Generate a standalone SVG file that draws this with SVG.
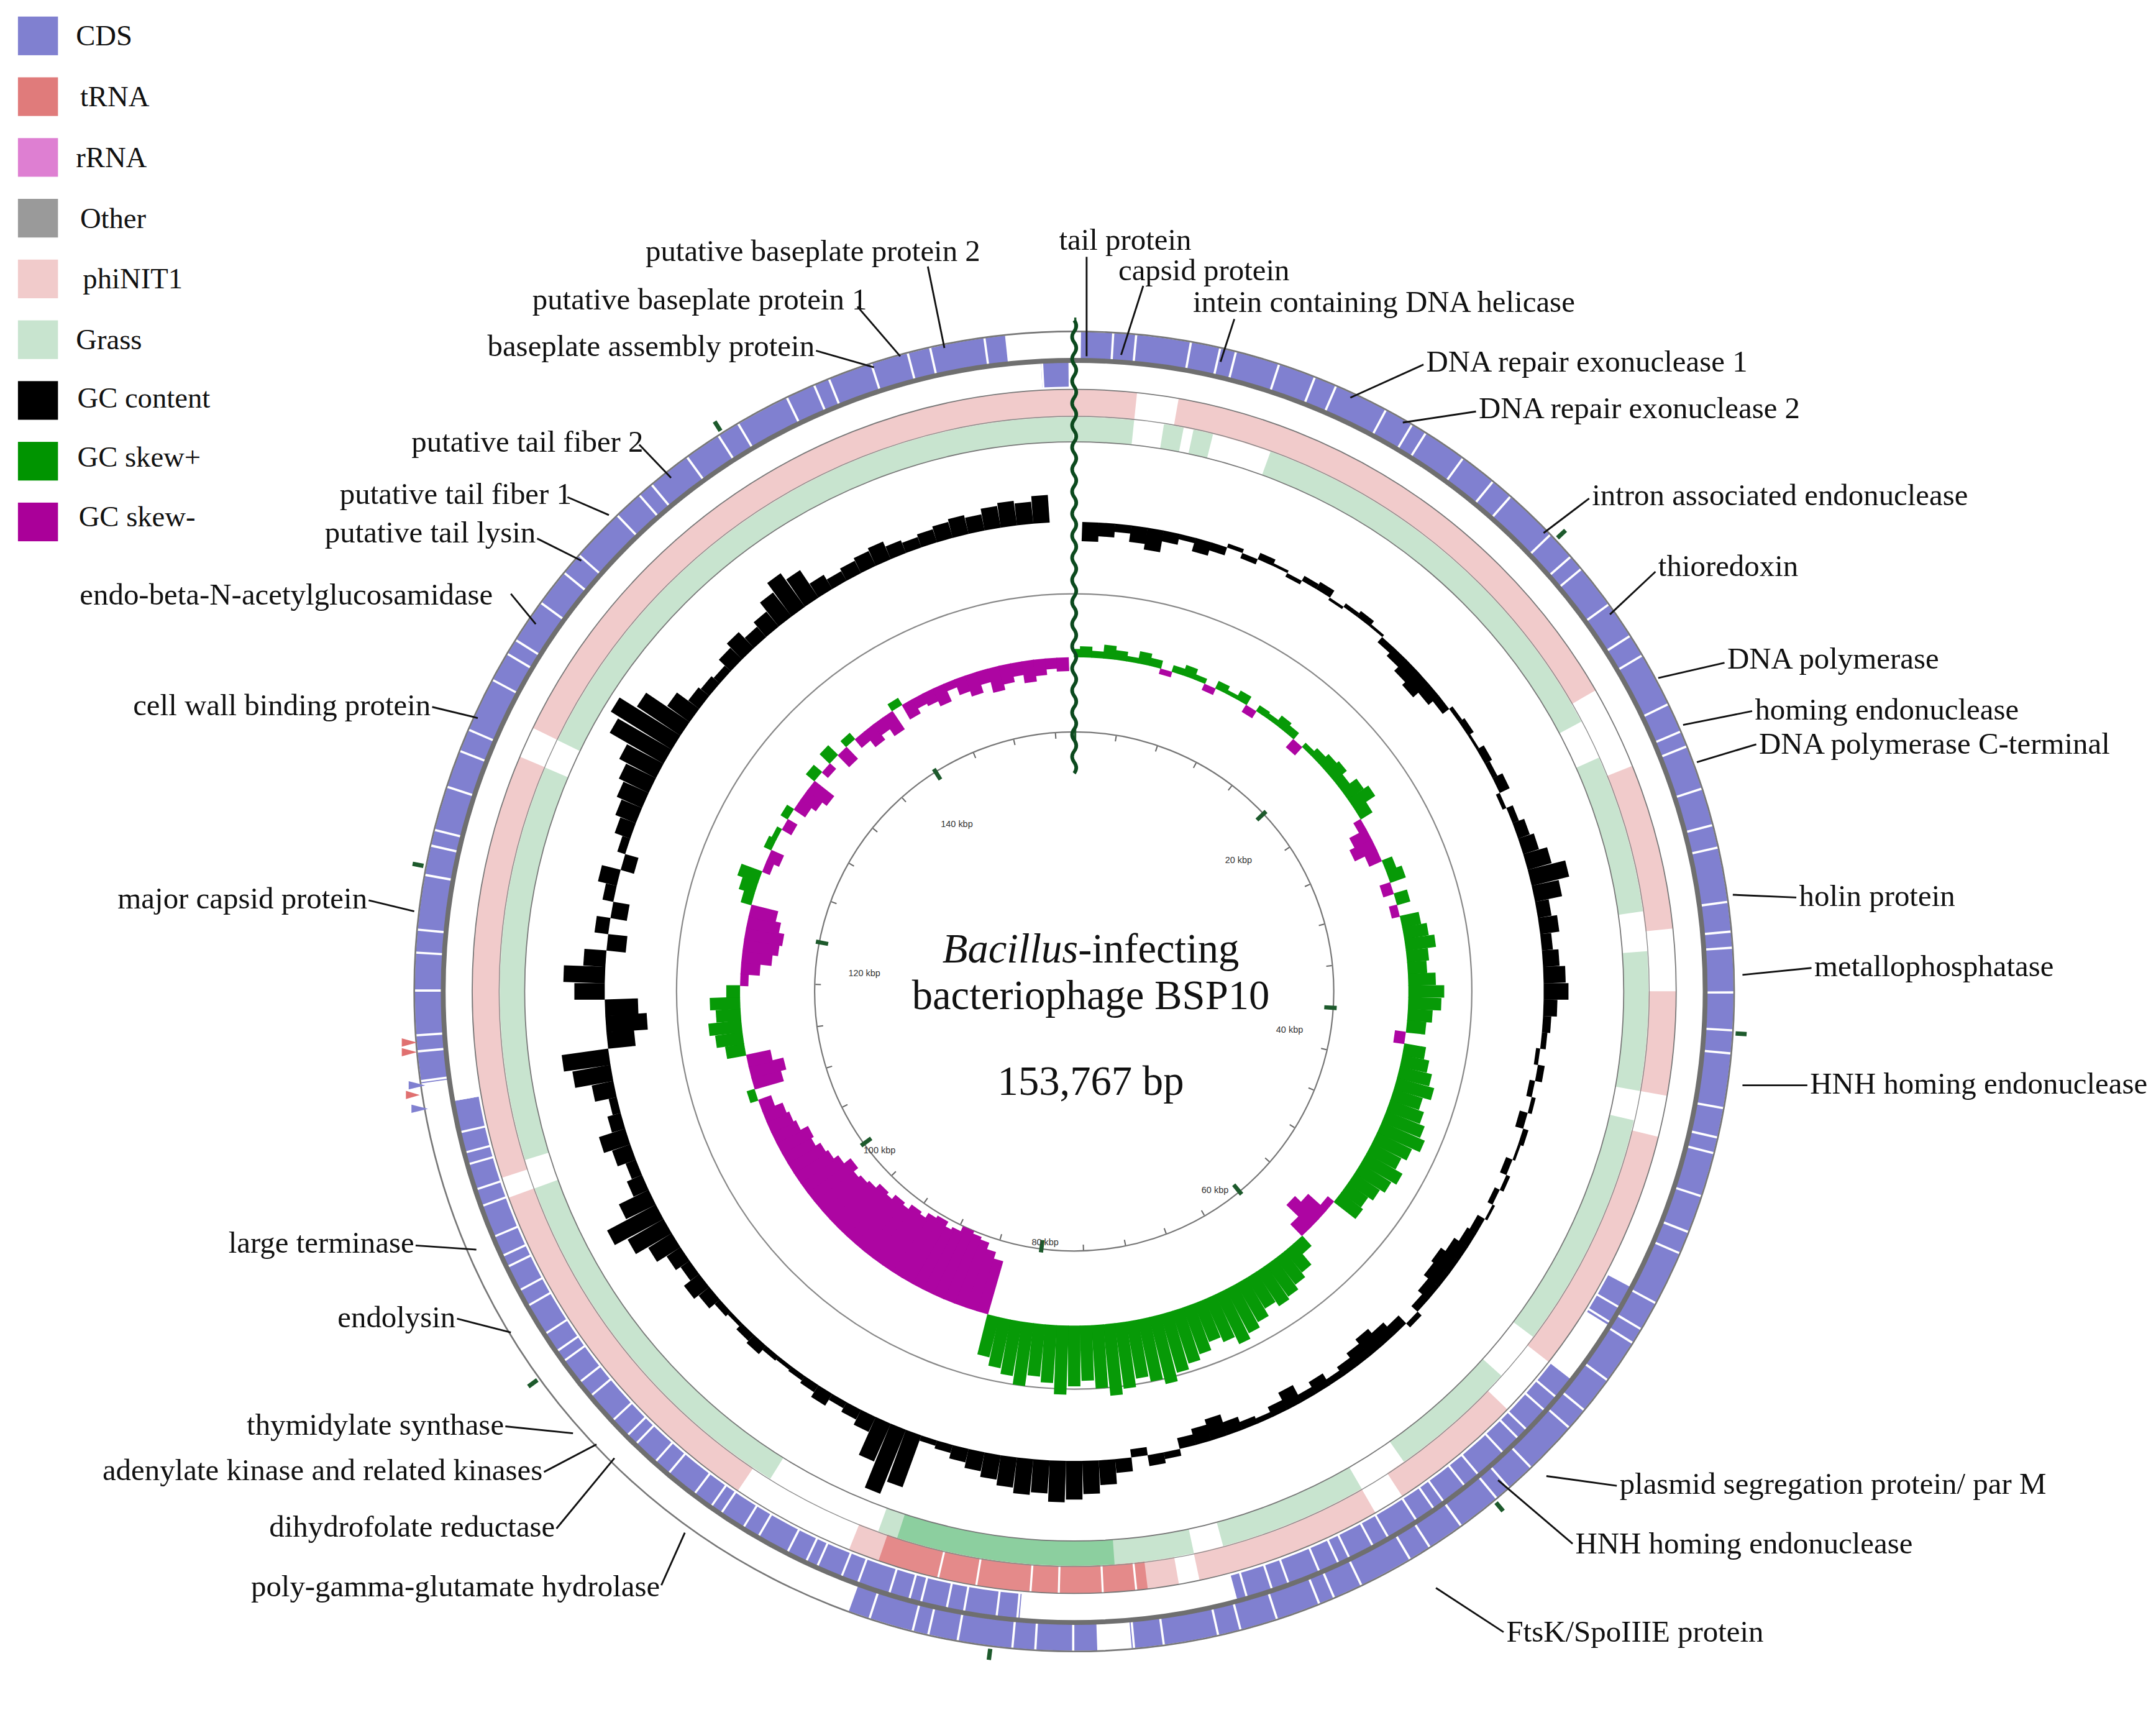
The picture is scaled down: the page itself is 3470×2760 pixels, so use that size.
<svg xmlns="http://www.w3.org/2000/svg" width="3470" height="2760" viewBox="0 0 3470 2760">
<style>
.lab{font-family:"Liberation Serif","Times New Roman",serif;font-size:22px;fill:#111}
.leg{font-family:"Liberation Serif","Times New Roman",serif;font-size:21px;fill:#111}
.tk{font-family:"Liberation Sans",Arial,sans-serif;font-size:6.5px;fill:#333;text-anchor:middle}
.ttl{font-family:"Liberation Serif","Times New Roman",serif;font-size:30px;fill:#111;text-anchor:middle}
.ld{fill:none;stroke:#111;stroke-width:1.3}
.k{fill:#000}.g{fill:#079a07}.m{fill:#ad05a2}
.ring{fill:none}
</style>
<rect width="3470" height="2760" fill="#fff"/>
<g transform="scale(2.2222)">
<g id="legend">
<rect x="13" y="12" width="29" height="28" fill="#8080d0"/><text class="leg" x="55" y="33">CDS</text>
<rect x="13" y="56" width="29" height="28" fill="#e07b7b"/><text class="leg" x="58" y="77">tRNA</text>
<rect x="13" y="100" width="29" height="28" fill="#de7fd2"/><text class="leg" x="55" y="121">rRNA</text>
<rect x="13" y="144" width="29" height="28" fill="#9a9a9a"/><text class="leg" x="58" y="165">Other</text>
<rect x="13" y="188" width="29" height="28" fill="#f1cbcb"/><text class="leg" x="60" y="209">phiNIT1</text>
<rect x="13" y="232" width="29" height="28" fill="#c8e4cf"/><text class="leg" x="55" y="253">Grass</text>
<rect x="13" y="276" width="29" height="28" fill="#000"/><text class="leg" x="56" y="295">GC content</text>
<rect x="13" y="320" width="29" height="28" fill="#009400"/><text class="leg" x="56" y="338">GC skew+</text>
<rect x="13" y="364" width="29" height="28" fill="#aa0099"/><text class="leg" x="57" y="381">GC skew-</text>
</g>
<g id="map-rings" transform="rotate(-90 778 718)">
<circle class="ring" cx="778" cy="718" r="467.5" stroke="#8080d0" stroke-width="20" pathLength="360" stroke-dasharray="0 0.6 174.4 3 22 62 92 6"/>
<circle class="ring" cx="778" cy="718" r="467.5" stroke="#fff" stroke-width="21" pathLength="360" stroke-dasharray="0.2 3.1 0.2 1.8 0.2 4.6 0.2 2.4 0.2 1.2 0.2 3.7"/>
<circle class="ring" cx="778" cy="718" r="447" stroke="#8080d0" stroke-width="18" pathLength="360" stroke-dasharray="0 118 4 6 37 20 75 97 2.5 0.5"/>
<circle class="ring" cx="778" cy="718" r="447" stroke="#fff" stroke-width="19" pathLength="360" stroke-dasharray="0.2 1.4 0.2 2.2 0.2 0.9 0.2 1.7 0.2 2.8"/>
<circle class="ring" cx="778" cy="718" r="426" stroke="#f1cbcb" stroke-width="20" pathLength="360" stroke-dasharray="6 4 50 8 16 6 10 4 24 6 13 3 18 2 32 12 36 2 41 3 64"/>
<circle class="ring" cx="778" cy="718" r="426" stroke="#e48a8a" stroke-width="20" pathLength="360" stroke-dasharray="0 173 26 161"/>
<circle class="ring" cx="778" cy="718" r="426" stroke="#fff" stroke-width="20" pathLength="360" stroke-dasharray="0 174 0.2 3 0.2 4 0.2 2.5 0.2 5 0.2 3.5 0.2 167.8"/>
<circle class="ring" cx="778" cy="718" r="407" stroke="#c8e4cf" stroke-width="18" pathLength="360" stroke-dasharray="6 3 2 1 2 6 42 4 16 4 14 3 24 5 13 5 15 3 32 12 38 3 40 3 64"/>
<circle class="ring" cx="778" cy="718" r="407" stroke="#8ccf9f" stroke-width="18" pathLength="360" stroke-dasharray="0 176 22 162"/>
<circle class="ring" cx="778" cy="718" r="478" stroke="#777" stroke-width="1.2"/>
<circle class="ring" cx="778" cy="718" r="457" stroke="#6f6f6f" stroke-width="3.5"/>
<circle class="ring" cx="778" cy="718" r="436" stroke="#777" stroke-width="0.8"/>
<circle class="ring" cx="778" cy="718" r="416.5" stroke="#888" stroke-width="0.6"/>
<circle class="ring" cx="778" cy="718" r="398" stroke="#777" stroke-width="0.8"/>
<circle class="ring" cx="778" cy="718" r="288" stroke="#888" stroke-width="1"/>
<circle class="ring" cx="778" cy="718" r="188" stroke="#777" stroke-width="1"/>
<circle class="ring" cx="778" cy="718" r="185.5" stroke="#666" stroke-width="4" pathLength="153.767" stroke-dasharray="0.12 3.88" stroke-dashoffset="0.06"/>
<circle class="ring" cx="778" cy="718" r="186" stroke="#1d5a2c" stroke-width="9" pathLength="153.767" stroke-dasharray="0.4 19.6" stroke-dashoffset="0.2"/>
<circle class="ring" cx="778" cy="718" r="484" stroke="#1d5a2c" stroke-width="8" pathLength="153.767" stroke-dasharray="0.16 19.84" stroke-dashoffset="0.08"/>
</g>
<g id="small-rna">
<path d="M291,752 l11,3 l-11,3 z M291,759 l11,3 l-11,3 z" fill="#e07070"/>
<path d="M294,790 l10,3 l-10,3 z" fill="#e07070"/>
<path d="M296,783 l12,3 l-12,3 z M298,800 l12,3 l-12,3 z" fill="#8080d0"/>
</g>
<g id="gc-content">
<rect x="772" y="378" width="12" height="14" class="k" transform="rotate(2 778 718)"/>
<rect x="772" y="378" width="12" height="10" class="k" transform="rotate(4 778 718)"/>
<rect x="772" y="378" width="12" height="6" class="k" transform="rotate(6 778 718)"/>
<rect x="772" y="378" width="12" height="12" class="k" transform="rotate(8 778 718)"/>
<rect x="772" y="378" width="12" height="16" class="k" transform="rotate(10 778 718)"/>
<rect x="772" y="378" width="12" height="8" class="k" transform="rotate(12 778 718)"/>
<rect x="772" y="378" width="12" height="4" class="k" transform="rotate(14 778 718)"/>
<rect x="772" y="378" width="12" height="10" class="k" transform="rotate(16 778 718)"/>
<rect x="772" y="378" width="12" height="6" class="k" transform="rotate(18 778 718)"/>
<rect x="772" y="375" width="12" height="3" class="k" transform="rotate(20 778 718)"/>
<rect x="772" y="378" width="12" height="4" class="k" transform="rotate(22 778 718)"/>
<rect x="772" y="373" width="12" height="5" class="k" transform="rotate(24 778 718)"/>
<rect x="772" y="376" width="12" height="2" class="k" transform="rotate(26 778 718)"/>
<rect x="772" y="378" width="12" height="3" class="k" transform="rotate(28 778 718)"/>
<rect x="772" y="374" width="12" height="4" class="k" transform="rotate(30 778 718)"/>
<rect x="772" y="372" width="12" height="6" class="k" transform="rotate(32 778 718)"/>
<rect x="772" y="378" width="12" height="2" class="k" transform="rotate(34 778 718)"/>
<rect x="772" y="375" width="12" height="3" class="k" transform="rotate(36 778 718)"/>
<rect x="772" y="373" width="12" height="5" class="k" transform="rotate(38 778 718)"/>
<rect x="772" y="376" width="12" height="2" class="k" transform="rotate(40 778 718)"/>
<rect x="772" y="378" width="12" height="5" class="k" transform="rotate(42 778 718)"/>
<rect x="772" y="378" width="12" height="8" class="k" transform="rotate(44 778 718)"/>
<rect x="772" y="378" width="12" height="12" class="k" transform="rotate(46 778 718)"/>
<rect x="772" y="378" width="12" height="15" class="k" transform="rotate(48 778 718)"/>
<rect x="772" y="378" width="12" height="10" class="k" transform="rotate(50 778 718)"/>
<rect x="772" y="378" width="12" height="6" class="k" transform="rotate(52 778 718)"/>
<rect x="772" y="375" width="12" height="3" class="k" transform="rotate(54 778 718)"/>
<rect x="772" y="373" width="12" height="5" class="k" transform="rotate(56 778 718)"/>
<rect x="772" y="376" width="12" height="2" class="k" transform="rotate(58 778 718)"/>
<rect x="772" y="372" width="12" height="6" class="k" transform="rotate(60 778 718)"/>
<rect x="772" y="374" width="12" height="4" class="k" transform="rotate(62 778 718)"/>
<rect x="772" y="370" width="12" height="8" class="k" transform="rotate(64 778 718)"/>
<rect x="772" y="378" width="12" height="3" class="k" transform="rotate(66 778 718)"/>
<rect x="772" y="373" width="12" height="5" class="k" transform="rotate(68 778 718)"/>
<rect x="772" y="369" width="12" height="9" class="k" transform="rotate(70 778 718)"/>
<rect x="772" y="366" width="12" height="12" class="k" transform="rotate(72 778 718)"/>
<rect x="772" y="360" width="12" height="18" class="k" transform="rotate(74 778 718)"/>
<rect x="772" y="350" width="12" height="28" class="k" transform="rotate(76 778 718)"/>
<rect x="772" y="358" width="12" height="20" class="k" transform="rotate(78 778 718)"/>
<rect x="772" y="368" width="12" height="10" class="k" transform="rotate(80 778 718)"/>
<rect x="772" y="364" width="12" height="14" class="k" transform="rotate(82 778 718)"/>
<rect x="772" y="370" width="12" height="8" class="k" transform="rotate(84 778 718)"/>
<rect x="772" y="366" width="12" height="12" class="k" transform="rotate(86 778 718)"/>
<rect x="772" y="362" width="12" height="16" class="k" transform="rotate(88 778 718)"/>
<rect x="772" y="360" width="12" height="18" class="k" transform="rotate(90 778 718)"/>
<rect x="772" y="368" width="12" height="10" class="k" transform="rotate(92 778 718)"/>
<rect x="772" y="372" width="12" height="6" class="k" transform="rotate(94 778 718)"/>
<rect x="772" y="374" width="12" height="4" class="k" transform="rotate(96 778 718)"/>
<rect x="772" y="378" width="12" height="3" class="k" transform="rotate(98 778 718)"/>
<rect x="772" y="373" width="12" height="5" class="k" transform="rotate(100 778 718)"/>
<rect x="772" y="378" width="12" height="4" class="k" transform="rotate(102 778 718)"/>
<rect x="772" y="375" width="12" height="3" class="k" transform="rotate(104 778 718)"/>
<rect x="772" y="378" width="12" height="6" class="k" transform="rotate(106 778 718)"/>
<rect x="772" y="374" width="12" height="4" class="k" transform="rotate(108 778 718)"/>
<rect x="772" y="376" width="12" height="2" class="k" transform="rotate(110 778 718)"/>
<rect x="772" y="378" width="12" height="5" class="k" transform="rotate(112 778 718)"/>
<rect x="772" y="375" width="12" height="3" class="k" transform="rotate(114 778 718)"/>
<rect x="772" y="378" width="12" height="4" class="k" transform="rotate(116 778 718)"/>
<rect x="772" y="376" width="12" height="2" class="k" transform="rotate(118 778 718)"/>
<rect x="772" y="378" width="12" height="6" class="k" transform="rotate(120 778 718)"/>
<rect x="772" y="378" width="12" height="8" class="k" transform="rotate(122 778 718)"/>
<rect x="772" y="378" width="12" height="12" class="k" transform="rotate(124 778 718)"/>
<rect x="772" y="378" width="12" height="16" class="k" transform="rotate(126 778 718)"/>
<rect x="772" y="378" width="12" height="14" class="k" transform="rotate(128 778 718)"/>
<rect x="772" y="378" width="12" height="10" class="k" transform="rotate(130 778 718)"/>
<rect x="772" y="378" width="12" height="6" class="k" transform="rotate(132 778 718)"/>
<rect x="772" y="374" width="12" height="4" class="k" transform="rotate(134 778 718)"/>
<rect x="772" y="378" width="12" height="8" class="k" transform="rotate(136 778 718)"/>
<rect x="772" y="378" width="12" height="12" class="k" transform="rotate(138 778 718)"/>
<rect x="772" y="378" width="12" height="16" class="k" transform="rotate(140 778 718)"/>
<rect x="772" y="378" width="12" height="12" class="k" transform="rotate(142 778 718)"/>
<rect x="772" y="378" width="12" height="8" class="k" transform="rotate(144 778 718)"/>
<rect x="772" y="378" width="12" height="5" class="k" transform="rotate(146 778 718)"/>
<rect x="772" y="378" width="12" height="10" class="k" transform="rotate(148 778 718)"/>
<rect x="772" y="378" width="12" height="6" class="k" transform="rotate(150 778 718)"/>
<rect x="772" y="378" width="12" height="14" class="k" transform="rotate(152 778 718)"/>
<rect x="772" y="378" width="12" height="8" class="k" transform="rotate(154 778 718)"/>
<rect x="772" y="378" width="12" height="4" class="k" transform="rotate(156 778 718)"/>
<rect x="772" y="378" width="12" height="6" class="k" transform="rotate(158 778 718)"/>
<rect x="772" y="378" width="12" height="10" class="k" transform="rotate(160 778 718)"/>
<rect x="772" y="378" width="12" height="16" class="k" transform="rotate(162 778 718)"/>
<rect x="772" y="378" width="12" height="12" class="k" transform="rotate(164 778 718)"/>
<rect x="772" y="378" width="12" height="8" class="k" transform="rotate(166 778 718)"/>
<rect x="772" y="373" width="12" height="5" class="k" transform="rotate(168 778 718)"/>
<rect x="772" y="370" width="12" height="8" class="k" transform="rotate(170 778 718)"/>
<rect x="772" y="378" width="12" height="6" class="k" transform="rotate(172 778 718)"/>
<rect x="772" y="368" width="12" height="10" class="k" transform="rotate(174 778 718)"/>
<rect x="772" y="360" width="12" height="18" class="k" transform="rotate(176 778 718)"/>
<rect x="772" y="354" width="12" height="24" class="k" transform="rotate(178 778 718)"/>
<rect x="772" y="350" width="12" height="28" class="k" transform="rotate(180 778 718)"/>
<rect x="772" y="348" width="12" height="30" class="k" transform="rotate(182 778 718)"/>
<rect x="772" y="354" width="12" height="24" class="k" transform="rotate(184 778 718)"/>
<rect x="772" y="352" width="12" height="26" class="k" transform="rotate(186 778 718)"/>
<rect x="772" y="356" width="12" height="22" class="k" transform="rotate(188 778 718)"/>
<rect x="772" y="360" width="12" height="18" class="k" transform="rotate(190 778 718)"/>
<rect x="772" y="364" width="12" height="14" class="k" transform="rotate(192 778 718)"/>
<rect x="772" y="368" width="12" height="10" class="k" transform="rotate(194 778 718)"/>
<rect x="772" y="372" width="12" height="6" class="k" transform="rotate(196 778 718)"/>
<rect x="772" y="374" width="12" height="4" class="k" transform="rotate(198 778 718)"/>
<rect x="772" y="338" width="12" height="40" class="k" transform="rotate(200 778 718)"/>
<rect x="772" y="328" width="12" height="50" class="k" transform="rotate(202 778 718)"/>
<rect x="772" y="348" width="12" height="30" class="k" transform="rotate(204 778 718)"/>
<rect x="772" y="366" width="12" height="12" class="k" transform="rotate(206 778 718)"/>
<rect x="772" y="370" width="12" height="8" class="k" transform="rotate(208 778 718)"/>
<rect x="772" y="373" width="12" height="5" class="k" transform="rotate(210 778 718)"/>
<rect x="772" y="368" width="12" height="10" class="k" transform="rotate(212 778 718)"/>
<rect x="772" y="372" width="12" height="6" class="k" transform="rotate(214 778 718)"/>
<rect x="772" y="374" width="12" height="4" class="k" transform="rotate(216 778 718)"/>
<rect x="772" y="375" width="12" height="3" class="k" transform="rotate(218 778 718)"/>
<rect x="772" y="374" width="12" height="4" class="k" transform="rotate(220 778 718)"/>
<rect x="772" y="370" width="12" height="8" class="k" transform="rotate(222 778 718)"/>
<rect x="772" y="372" width="12" height="6" class="k" transform="rotate(224 778 718)"/>
<rect x="772" y="375" width="12" height="3" class="k" transform="rotate(226 778 718)"/>
<rect x="772" y="373" width="12" height="5" class="k" transform="rotate(228 778 718)"/>
<rect x="772" y="368" width="12" height="10" class="k" transform="rotate(230 778 718)"/>
<rect x="772" y="364" width="12" height="14" class="k" transform="rotate(232 778 718)"/>
<rect x="772" y="370" width="12" height="8" class="k" transform="rotate(234 778 718)"/>
<rect x="772" y="366" width="12" height="12" class="k" transform="rotate(236 778 718)"/>
<rect x="772" y="358" width="12" height="20" class="k" transform="rotate(238 778 718)"/>
<rect x="772" y="348" width="12" height="30" class="k" transform="rotate(240 778 718)"/>
<rect x="772" y="338" width="12" height="40" class="k" transform="rotate(242 778 718)"/>
<rect x="772" y="354" width="12" height="24" class="k" transform="rotate(244 778 718)"/>
<rect x="772" y="366" width="12" height="12" class="k" transform="rotate(246 778 718)"/>
<rect x="772" y="370" width="12" height="8" class="k" transform="rotate(248 778 718)"/>
<rect x="772" y="364" width="12" height="14" class="k" transform="rotate(250 778 718)"/>
<rect x="772" y="358" width="12" height="20" class="k" transform="rotate(252 778 718)"/>
<rect x="772" y="368" width="12" height="10" class="k" transform="rotate(254 778 718)"/>
<rect x="772" y="372" width="12" height="6" class="k" transform="rotate(256 778 718)"/>
<rect x="772" y="362" width="12" height="16" class="k" transform="rotate(258 778 718)"/>
<rect x="772" y="350" width="12" height="28" class="k" transform="rotate(260 778 718)"/>
<rect x="772" y="344" width="12" height="34" class="k" transform="rotate(262 778 718)"/>
<rect x="772" y="378" width="12" height="20" class="k" transform="rotate(264 778 718)"/>
<rect x="772" y="378" width="12" height="30" class="k" transform="rotate(266 778 718)"/>
<rect x="772" y="378" width="12" height="24" class="k" transform="rotate(268 778 718)"/>
<rect x="772" y="356" width="12" height="22" class="k" transform="rotate(270 778 718)"/>
<rect x="772" y="348" width="12" height="30" class="k" transform="rotate(272 778 718)"/>
<rect x="772" y="362" width="12" height="16" class="k" transform="rotate(274 778 718)"/>
<rect x="772" y="378" width="12" height="14" class="k" transform="rotate(276 778 718)"/>
<rect x="772" y="368" width="12" height="10" class="k" transform="rotate(278 778 718)"/>
<rect x="772" y="378" width="12" height="12" class="k" transform="rotate(280 778 718)"/>
<rect x="772" y="370" width="12" height="8" class="k" transform="rotate(282 778 718)"/>
<rect x="772" y="364" width="12" height="14" class="k" transform="rotate(284 778 718)"/>
<rect x="772" y="378" width="12" height="10" class="k" transform="rotate(286 778 718)"/>
<rect x="772" y="372" width="12" height="6" class="k" transform="rotate(288 778 718)"/>
<rect x="772" y="366" width="12" height="12" class="k" transform="rotate(290 778 718)"/>
<rect x="772" y="362" width="12" height="16" class="k" transform="rotate(292 778 718)"/>
<rect x="772" y="358" width="12" height="20" class="k" transform="rotate(294 778 718)"/>
<rect x="772" y="354" width="12" height="24" class="k" transform="rotate(296 778 718)"/>
<rect x="772" y="348" width="12" height="30" class="k" transform="rotate(298 778 718)"/>
<rect x="772" y="333" width="12" height="45" class="k" transform="rotate(300 778 718)"/>
<rect x="772" y="326" width="12" height="52" class="k" transform="rotate(302 778 718)"/>
<rect x="772" y="340" width="12" height="38" class="k" transform="rotate(304 778 718)"/>
<rect x="772" y="358" width="12" height="20" class="k" transform="rotate(306 778 718)"/>
<rect x="772" y="368" width="12" height="10" class="k" transform="rotate(308 778 718)"/>
<rect x="772" y="370" width="12" height="8" class="k" transform="rotate(310 778 718)"/>
<rect x="772" y="372" width="12" height="6" class="k" transform="rotate(312 778 718)"/>
<rect x="772" y="366" width="12" height="12" class="k" transform="rotate(314 778 718)"/>
<rect x="772" y="362" width="12" height="16" class="k" transform="rotate(316 778 718)"/>
<rect x="772" y="368" width="12" height="10" class="k" transform="rotate(318 778 718)"/>
<rect x="772" y="364" width="12" height="14" class="k" transform="rotate(320 778 718)"/>
<rect x="772" y="356" width="12" height="22" class="k" transform="rotate(322 778 718)"/>
<rect x="772" y="348" width="12" height="30" class="k" transform="rotate(324 778 718)"/>
<rect x="772" y="354" width="12" height="24" class="k" transform="rotate(326 778 718)"/>
<rect x="772" y="366" width="12" height="12" class="k" transform="rotate(328 778 718)"/>
<rect x="772" y="370" width="12" height="8" class="k" transform="rotate(330 778 718)"/>
<rect x="772" y="368" width="12" height="10" class="k" transform="rotate(332 778 718)"/>
<rect x="772" y="366" width="12" height="12" class="k" transform="rotate(334 778 718)"/>
<rect x="772" y="364" width="12" height="14" class="k" transform="rotate(336 778 718)"/>
<rect x="772" y="368" width="12" height="10" class="k" transform="rotate(338 778 718)"/>
<rect x="772" y="370" width="12" height="8" class="k" transform="rotate(340 778 718)"/>
<rect x="772" y="368" width="12" height="10" class="k" transform="rotate(342 778 718)"/>
<rect x="772" y="366" width="12" height="12" class="k" transform="rotate(344 778 718)"/>
<rect x="772" y="364" width="12" height="14" class="k" transform="rotate(346 778 718)"/>
<rect x="772" y="366" width="12" height="12" class="k" transform="rotate(348 778 718)"/>
<rect x="772" y="362" width="12" height="16" class="k" transform="rotate(350 778 718)"/>
<rect x="772" y="360" width="12" height="18" class="k" transform="rotate(352 778 718)"/>
<rect x="772" y="362" width="12" height="16" class="k" transform="rotate(354 778 718)"/>
<rect x="772" y="358" width="12" height="20" class="k" transform="rotate(356 778 718)"/>
</g>
<g id="gc-skew">
<rect x="773.5" y="470" width="9" height="6" class="g" transform="rotate(1 778 718)"/>
<rect x="773.5" y="468" width="9" height="8" class="g" transform="rotate(2 778 718)"/>
<rect x="773.5" y="471" width="9" height="5" class="g" transform="rotate(4 778 718)"/>
<rect x="773.5" y="466" width="9" height="10" class="g" transform="rotate(6 778 718)"/>
<rect x="773.5" y="469" width="9" height="7" class="g" transform="rotate(8 778 718)"/>
<rect x="773.5" y="472" width="9" height="4" class="g" transform="rotate(10 778 718)"/>
<rect x="773.5" y="467" width="9" height="9" class="g" transform="rotate(12 778 718)"/>
<rect x="773.5" y="470" width="9" height="6" class="g" transform="rotate(14 778 718)"/>
<rect x="773.5" y="476" width="9" height="4" class="m" transform="rotate(16 778 718)"/>
<rect x="773.5" y="471" width="9" height="5" class="g" transform="rotate(18 778 718)"/>
<rect x="773.5" y="468" width="9" height="8" class="g" transform="rotate(20 778 718)"/>
<rect x="773.5" y="472" width="9" height="4" class="g" transform="rotate(22 778 718)"/>
<rect x="773.5" y="476" width="9" height="5" class="m" transform="rotate(24 778 718)"/>
<rect x="773.5" y="470" width="9" height="6" class="g" transform="rotate(26 778 718)"/>
<rect x="773.5" y="473" width="9" height="3" class="g" transform="rotate(28 778 718)"/>
<rect x="773.5" y="469" width="9" height="7" class="g" transform="rotate(30 778 718)"/>
<rect x="773.5" y="476" width="9" height="6" class="m" transform="rotate(32 778 718)"/>
<rect x="773.5" y="471" width="9" height="5" class="g" transform="rotate(34 778 718)"/>
<rect x="773.5" y="472" width="9" height="4" class="g" transform="rotate(36 778 718)"/>
<rect x="773.5" y="468" width="9" height="8" class="g" transform="rotate(38 778 718)"/>
<rect x="773.5" y="470" width="9" height="6" class="g" transform="rotate(40 778 718)"/>
<rect x="773.5" y="476" width="9" height="8" class="m" transform="rotate(42 778 718)"/>
<rect x="773.5" y="472" width="9" height="4" class="g" transform="rotate(44 778 718)"/>
<rect x="773.5" y="469" width="9" height="7" class="g" transform="rotate(46 778 718)"/>
<rect x="773.5" y="466" width="9" height="10" class="g" transform="rotate(48 778 718)"/>
<rect x="773.5" y="464" width="9" height="12" class="g" transform="rotate(50 778 718)"/>
<rect x="773.5" y="468" width="9" height="8" class="g" transform="rotate(52 778 718)"/>
<rect x="773.5" y="462" width="9" height="14" class="g" transform="rotate(54 778 718)"/>
<rect x="773.5" y="458" width="9" height="18" class="g" transform="rotate(56 778 718)"/>
<rect x="773.5" y="466" width="9" height="10" class="g" transform="rotate(58 778 718)"/>
<rect x="773.5" y="476" width="9" height="6" class="m" transform="rotate(60 778 718)"/>
<rect x="773.5" y="476" width="9" height="14" class="m" transform="rotate(62 778 718)"/>
<rect x="773.5" y="476" width="9" height="18" class="m" transform="rotate(64 778 718)"/>
<rect x="773.5" y="476" width="9" height="10" class="m" transform="rotate(66 778 718)"/>
<rect x="773.5" y="468" width="9" height="8" class="g" transform="rotate(68 778 718)"/>
<rect x="773.5" y="464" width="9" height="12" class="g" transform="rotate(70 778 718)"/>
<rect x="773.5" y="476" width="9" height="8" class="m" transform="rotate(72 778 718)"/>
<rect x="773.5" y="466" width="9" height="10" class="g" transform="rotate(74 778 718)"/>
<rect x="773.5" y="476" width="9" height="6" class="m" transform="rotate(76 778 718)"/>
<rect x="773.5" y="462" width="9" height="14" class="g" transform="rotate(78 778 718)"/>
<rect x="773.5" y="458" width="9" height="18" class="g" transform="rotate(80 778 718)"/>
<rect x="773.5" y="454" width="9" height="22" class="g" transform="rotate(82 778 718)"/>
<rect x="773.5" y="460" width="9" height="16" class="g" transform="rotate(84 778 718)"/>
<rect x="773.5" y="462" width="9" height="14" class="g" transform="rotate(86 778 718)"/>
<rect x="773.5" y="456" width="9" height="20" class="g" transform="rotate(88 778 718)"/>
<rect x="773.5" y="450" width="9" height="26" class="g" transform="rotate(90 778 718)"/>
<rect x="773.5" y="452" width="9" height="24" class="g" transform="rotate(92 778 718)"/>
<rect x="773.5" y="458" width="9" height="18" class="g" transform="rotate(94 778 718)"/>
<rect x="773.5" y="462" width="9" height="14" class="g" transform="rotate(96 778 718)"/>
<rect x="773.5" y="476" width="9" height="8" class="m" transform="rotate(98 778 718)"/>
<rect x="773.5" y="460" width="9" height="16" class="g" transform="rotate(100 778 718)"/>
<rect x="773.5" y="456" width="9" height="20" class="g" transform="rotate(102 778 718)"/>
<rect x="773.5" y="452" width="9" height="24" class="g" transform="rotate(104 778 718)"/>
<rect x="773.5" y="448" width="9" height="28" class="g" transform="rotate(106 778 718)"/>
<rect x="773.5" y="454" width="9" height="22" class="g" transform="rotate(108 778 718)"/>
<rect x="773.5" y="450" width="9" height="26" class="g" transform="rotate(110 778 718)"/>
<rect x="773.5" y="446" width="9" height="30" class="g" transform="rotate(112 778 718)"/>
<rect x="773.5" y="442" width="9" height="34" class="g" transform="rotate(114 778 718)"/>
<rect x="773.5" y="448" width="9" height="28" class="g" transform="rotate(116 778 718)"/>
<rect x="773.5" y="452" width="9" height="24" class="g" transform="rotate(118 778 718)"/>
<rect x="773.5" y="446" width="9" height="30" class="g" transform="rotate(120 778 718)"/>
<rect x="773.5" y="450" width="9" height="26" class="g" transform="rotate(122 778 718)"/>
<rect x="773.5" y="454" width="9" height="22" class="g" transform="rotate(124 778 718)"/>
<rect x="773.5" y="458" width="9" height="18" class="g" transform="rotate(126 778 718)"/>
<rect x="773.5" y="456" width="9" height="20" class="g" transform="rotate(128 778 718)"/>
<rect x="773.5" y="476" width="9" height="6" class="m" transform="rotate(130 778 718)"/>
<rect x="773.5" y="476" width="9" height="18" class="m" transform="rotate(132 778 718)"/>
<rect x="773.5" y="476" width="9" height="24" class="m" transform="rotate(134 778 718)"/>
<rect x="773.5" y="476" width="9" height="12" class="m" transform="rotate(136 778 718)"/>
<rect x="773.5" y="466" width="9" height="10" class="g" transform="rotate(138 778 718)"/>
<rect x="773.5" y="456" width="9" height="20" class="g" transform="rotate(140 778 718)"/>
<rect x="773.5" y="452" width="9" height="24" class="g" transform="rotate(142 778 718)"/>
<rect x="773.5" y="448" width="9" height="28" class="g" transform="rotate(144 778 718)"/>
<rect x="773.5" y="446" width="9" height="30" class="g" transform="rotate(146 778 718)"/>
<rect x="773.5" y="450" width="9" height="26" class="g" transform="rotate(148 778 718)"/>
<rect x="773.5" y="444" width="9" height="32" class="g" transform="rotate(150 778 718)"/>
<rect x="773.5" y="440" width="9" height="36" class="g" transform="rotate(152 778 718)"/>
<rect x="773.5" y="436" width="9" height="40" class="g" transform="rotate(154 778 718)"/>
<rect x="773.5" y="442" width="9" height="34" class="g" transform="rotate(156 778 718)"/>
<rect x="773.5" y="446" width="9" height="30" class="g" transform="rotate(158 778 718)"/>
<rect x="773.5" y="440" width="9" height="36" class="g" transform="rotate(160 778 718)"/>
<rect x="773.5" y="436" width="9" height="40" class="g" transform="rotate(162 778 718)"/>
<rect x="773.5" y="432" width="9" height="44" class="g" transform="rotate(164 778 718)"/>
<rect x="773.5" y="426" width="9" height="50" class="g" transform="rotate(166 778 718)"/>
<rect x="773.5" y="430" width="9" height="46" class="g" transform="rotate(168 778 718)"/>
<rect x="773.5" y="434" width="9" height="42" class="g" transform="rotate(170 778 718)"/>
<rect x="773.5" y="428" width="9" height="48" class="g" transform="rotate(172 778 718)"/>
<rect x="773.5" y="424" width="9" height="52" class="g" transform="rotate(174 778 718)"/>
<rect x="773.5" y="430" width="9" height="46" class="g" transform="rotate(176 778 718)"/>
<rect x="773.5" y="436" width="9" height="40" class="g" transform="rotate(178 778 718)"/>
<rect x="773.5" y="432" width="9" height="44" class="g" transform="rotate(180 778 718)"/>
<rect x="773.5" y="426" width="9" height="50" class="g" transform="rotate(182 778 718)"/>
<rect x="773.5" y="434" width="9" height="42" class="g" transform="rotate(184 778 718)"/>
<rect x="773.5" y="438" width="9" height="38" class="g" transform="rotate(186 778 718)"/>
<rect x="773.5" y="430" width="9" height="46" class="g" transform="rotate(188 778 718)"/>
<rect x="773.5" y="436" width="9" height="40" class="g" transform="rotate(190 778 718)"/>
<rect x="773.5" y="440" width="9" height="36" class="g" transform="rotate(192 778 718)"/>
<rect x="773.5" y="446" width="9" height="30" class="g" transform="rotate(194 778 718)"/>
<rect x="773.5" y="476" width="9" height="40" class="m" transform="rotate(196 778 718)"/>
<rect x="773.5" y="476" width="9" height="45" class="m" transform="rotate(198 778 718)"/>
<rect x="773.5" y="476" width="9" height="50" class="m" transform="rotate(200 778 718)"/>
<rect x="773.5" y="476" width="9" height="52" class="m" transform="rotate(202 778 718)"/>
<rect x="773.5" y="476" width="9" height="54" class="m" transform="rotate(204 778 718)"/>
<rect x="773.5" y="476" width="9" height="50" class="m" transform="rotate(206 778 718)"/>
<rect x="773.5" y="476" width="9" height="48" class="m" transform="rotate(208 778 718)"/>
<rect x="773.5" y="476" width="9" height="52" class="m" transform="rotate(210 778 718)"/>
<rect x="773.5" y="476" width="9" height="50" class="m" transform="rotate(212 778 718)"/>
<rect x="773.5" y="476" width="9" height="46" class="m" transform="rotate(214 778 718)"/>
<rect x="773.5" y="476" width="9" height="48" class="m" transform="rotate(216 778 718)"/>
<rect x="773.5" y="476" width="9" height="44" class="m" transform="rotate(218 778 718)"/>
<rect x="773.5" y="476" width="9" height="46" class="m" transform="rotate(220 778 718)"/>
<rect x="773.5" y="476" width="9" height="42" class="m" transform="rotate(222 778 718)"/>
<rect x="773.5" y="476" width="9" height="44" class="m" transform="rotate(224 778 718)"/>
<rect x="773.5" y="476" width="9" height="40" class="m" transform="rotate(226 778 718)"/>
<rect x="773.5" y="476" width="9" height="38" class="m" transform="rotate(228 778 718)"/>
<rect x="773.5" y="476" width="9" height="36" class="m" transform="rotate(230 778 718)"/>
<rect x="773.5" y="476" width="9" height="40" class="m" transform="rotate(232 778 718)"/>
<rect x="773.5" y="476" width="9" height="34" class="m" transform="rotate(234 778 718)"/>
<rect x="773.5" y="476" width="9" height="30" class="m" transform="rotate(236 778 718)"/>
<rect x="773.5" y="476" width="9" height="28" class="m" transform="rotate(238 778 718)"/>
<rect x="773.5" y="476" width="9" height="24" class="m" transform="rotate(240 778 718)"/>
<rect x="773.5" y="476" width="9" height="26" class="m" transform="rotate(242 778 718)"/>
<rect x="773.5" y="476" width="9" height="20" class="m" transform="rotate(244 778 718)"/>
<rect x="773.5" y="476" width="9" height="18" class="m" transform="rotate(246 778 718)"/>
<rect x="773.5" y="476" width="9" height="16" class="m" transform="rotate(248 778 718)"/>
<rect x="773.5" y="476" width="9" height="10" class="m" transform="rotate(250 778 718)"/>
<rect x="773.5" y="470" width="9" height="6" class="g" transform="rotate(252 778 718)"/>
<rect x="773.5" y="476" width="9" height="22" class="m" transform="rotate(254 778 718)"/>
<rect x="773.5" y="476" width="9" height="26" class="m" transform="rotate(256 778 718)"/>
<rect x="773.5" y="476" width="9" height="18" class="m" transform="rotate(258 778 718)"/>
<rect x="773.5" y="462" width="9" height="14" class="g" transform="rotate(260 778 718)"/>
<rect x="773.5" y="456" width="9" height="20" class="g" transform="rotate(262 778 718)"/>
<rect x="773.5" y="452" width="9" height="24" class="g" transform="rotate(264 778 718)"/>
<rect x="773.5" y="458" width="9" height="18" class="g" transform="rotate(266 778 718)"/>
<rect x="773.5" y="454" width="9" height="22" class="g" transform="rotate(268 778 718)"/>
<rect x="773.5" y="466" width="9" height="10" class="g" transform="rotate(270 778 718)"/>
<rect x="773.5" y="476" width="9" height="6" class="m" transform="rotate(272 778 718)"/>
<rect x="773.5" y="476" width="9" height="14" class="m" transform="rotate(274 778 718)"/>
<rect x="773.5" y="476" width="9" height="22" class="m" transform="rotate(276 778 718)"/>
<rect x="773.5" y="476" width="9" height="26" class="m" transform="rotate(278 778 718)"/>
<rect x="773.5" y="476" width="9" height="28" class="m" transform="rotate(280 778 718)"/>
<rect x="773.5" y="476" width="9" height="24" class="m" transform="rotate(282 778 718)"/>
<rect x="773.5" y="476" width="9" height="20" class="m" transform="rotate(284 778 718)"/>
<rect x="773.5" y="468" width="9" height="8" class="g" transform="rotate(286 778 718)"/>
<rect x="773.5" y="464" width="9" height="12" class="g" transform="rotate(288 778 718)"/>
<rect x="773.5" y="460" width="9" height="16" class="g" transform="rotate(290 778 718)"/>
<rect x="773.5" y="476" width="9" height="6" class="m" transform="rotate(292 778 718)"/>
<rect x="773.5" y="476" width="9" height="10" class="m" transform="rotate(294 778 718)"/>
<rect x="773.5" y="470" width="9" height="6" class="g" transform="rotate(296 778 718)"/>
<rect x="773.5" y="472" width="9" height="4" class="g" transform="rotate(298 778 718)"/>
<rect x="773.5" y="476" width="9" height="8" class="m" transform="rotate(300 778 718)"/>
<rect x="773.5" y="470" width="9" height="6" class="g" transform="rotate(302 778 718)"/>
<rect x="773.5" y="476" width="9" height="10" class="m" transform="rotate(304 778 718)"/>
<rect x="773.5" y="476" width="9" height="14" class="m" transform="rotate(306 778 718)"/>
<rect x="773.5" y="476" width="9" height="18" class="m" transform="rotate(308 778 718)"/>
<rect x="773.5" y="468" width="9" height="8" class="g" transform="rotate(310 778 718)"/>
<rect x="773.5" y="476" width="9" height="6" class="m" transform="rotate(312 778 718)"/>
<rect x="773.5" y="466" width="9" height="10" class="g" transform="rotate(314 778 718)"/>
<rect x="773.5" y="476" width="9" height="12" class="m" transform="rotate(316 778 718)"/>
<rect x="773.5" y="470" width="9" height="6" class="g" transform="rotate(318 778 718)"/>
<rect x="773.5" y="476" width="9" height="8" class="m" transform="rotate(320 778 718)"/>
<rect x="773.5" y="476" width="9" height="14" class="m" transform="rotate(322 778 718)"/>
<rect x="773.5" y="476" width="9" height="10" class="m" transform="rotate(324 778 718)"/>
<rect x="773.5" y="476" width="9" height="16" class="m" transform="rotate(326 778 718)"/>
<rect x="773.5" y="470" width="9" height="6" class="g" transform="rotate(328 778 718)"/>
<rect x="773.5" y="476" width="9" height="12" class="m" transform="rotate(330 778 718)"/>
<rect x="773.5" y="476" width="9" height="8" class="m" transform="rotate(332 778 718)"/>
<rect x="773.5" y="476" width="9" height="10" class="m" transform="rotate(334 778 718)"/>
<rect x="773.5" y="476" width="9" height="14" class="m" transform="rotate(336 778 718)"/>
<rect x="773.5" y="476" width="9" height="6" class="m" transform="rotate(338 778 718)"/>
<rect x="773.5" y="476" width="9" height="12" class="m" transform="rotate(340 778 718)"/>
<rect x="773.5" y="476" width="9" height="16" class="m" transform="rotate(342 778 718)"/>
<rect x="773.5" y="476" width="9" height="10" class="m" transform="rotate(344 778 718)"/>
<rect x="773.5" y="476" width="9" height="18" class="m" transform="rotate(346 778 718)"/>
<rect x="773.5" y="476" width="9" height="14" class="m" transform="rotate(348 778 718)"/>
<rect x="773.5" y="476" width="9" height="10" class="m" transform="rotate(350 778 718)"/>
<rect x="773.5" y="476" width="9" height="16" class="m" transform="rotate(352 778 718)"/>
<rect x="773.5" y="476" width="9" height="12" class="m" transform="rotate(354 778 718)"/>
<rect x="773.5" y="476" width="9" height="8" class="m" transform="rotate(356 778 718)"/>
<rect x="773.5" y="476" width="9" height="10" class="m" transform="rotate(358 778 718)"/>
</g>
<g id="origin-line">
<path d="M778,232 q3,4 0,8 t0,8 t0,8 t0,8 t0,8 t0,8 t0,8 t0,8 t0,8 t0,8 t0,8 t0,8 t0,8 t0,8 t0,8 t0,8 t0,8 t0,8 t0,8 t0,8 t0,8 t0,8 t0,8 t0,8 t0,8 t0,8 t0,8 t0,8 t0,8 t0,8 t0,8 t0,8 t0,8 t0,8 t0,8 t0,8 t0,8 t0,8 t0,8 t0,8 t0,8" fill="none" stroke="#0c4a1e" stroke-width="2.6"/>
</g>
<g id="center-title">
<text class="ttl" x="790" y="697"><tspan font-style="italic">Bacillus</tspan>-infecting</text>
<text class="ttl" x="790" y="731">bacteriophage BSP10</text>
<text class="ttl" x="790" y="793">153,767 bp</text>
</g>
<g id="tick-labels">
<text class="tk" x="693" y="599">140 kbp</text>
<text class="tk" x="897" y="625">20 kbp</text>
<text class="tk" x="934" y="748">40 kbp</text>
<text class="tk" x="880" y="864">60 kbp</text>
<text class="tk" x="757" y="902">80 kbp</text>
<text class="tk" x="637" y="835">100 kbp</text>
<text class="tk" x="626" y="707">120 kbp</text>
</g>
<g id="connectors">
<path class="ld" d="M787,186 L787,258"/>
<path class="ld" d="M828,207 L812,257"/>
<path class="ld" d="M894,231 L884,262"/>
<path class="ld" d="M1031,264 L978,288"/>
<path class="ld" d="M1069,298 L1016,306"/>
<path class="ld" d="M1151,361 L1118,386"/>
<path class="ld" d="M1199,414 L1166,445"/>
<path class="ld" d="M1249,480 L1201,491"/>
<path class="ld" d="M1269,515 L1219,525"/>
<path class="ld" d="M1272,539 L1229,552"/>
<path class="ld" d="M1301,650 L1255,648"/>
<path class="ld" d="M1312,701 L1262,706"/>
<path class="ld" d="M1309,786 L1262,786"/>
<path class="ld" d="M1171,1076 L1120,1069"/>
<path class="ld" d="M1139,1118 L1085,1072"/>
<path class="ld" d="M1089,1182 L1040,1150"/>
<path class="ld" d="M672,193 L684,252"/>
<path class="ld" d="M621,222 L652,258"/>
<path class="ld" d="M591,254 L633,266"/>
<path class="ld" d="M463,322 L486,346"/>
<path class="ld" d="M411,360 L441,373"/>
<path class="ld" d="M389,390 L421,406"/>
<path class="ld" d="M370,430 L388,452"/>
<path class="ld" d="M313,512 L346,520"/>
<path class="ld" d="M267,652 L300,660"/>
<path class="ld" d="M301,902 L345,905"/>
<path class="ld" d="M331,955 L370,965"/>
<path class="ld" d="M366,1033 L415,1038"/>
<path class="ld" d="M394,1066 L432,1046"/>
<path class="ld" d="M403,1107 L445,1056"/>
<path class="ld" d="M479,1148 L496,1110"/>
</g>
<g id="labels">
<text class="lab" x="767" y="181">tail protein</text>
<text class="lab" x="810" y="203">capsid protein</text>
<text class="lab" x="864" y="226">intein containing DNA helicase</text>
<text class="lab" x="1033" y="269">DNA repair exonuclease 1</text>
<text class="lab" x="1071" y="303">DNA repair exonuclease 2</text>
<text class="lab" x="1153" y="366">intron associated endonuclease</text>
<text class="lab" x="1201" y="417">thioredoxin</text>
<text class="lab" x="1251" y="484">DNA polymerase</text>
<text class="lab" x="1271" y="521">homing endonuclease</text>
<text class="lab" x="1274" y="546">DNA polymerase C-terminal</text>
<text class="lab" x="1303" y="656">holin protein</text>
<text class="lab" x="1314" y="707">metallophosphatase</text>
<text class="lab" x="1311" y="792">HNH homing endonuclease</text>
<text class="lab" x="1173" y="1082">plasmid segregation protein/ par M</text>
<text class="lab" x="1141" y="1125">HNH homing endonuclease</text>
<text class="lab" x="1091" y="1189">FtsK/SpoIIIE protein</text>
<g text-anchor="end">
<text class="lab" x="710" y="189">putative baseplate protein 2</text>
<text class="lab" x="628" y="224">putative baseplate protein 1</text>
<text class="lab" x="590" y="258">baseplate assembly protein</text>
<text class="lab" x="466" y="327">putative tail fiber 2</text>
<text class="lab" x="414" y="365">putative tail fiber 1</text>
<text class="lab" x="388" y="393">putative tail lysin</text>
<text class="lab" x="357" y="438">endo-beta-N-acetylglucosamidase</text>
<text class="lab" x="312" y="518">cell wall binding protein</text>
<text class="lab" x="266" y="658">major capsid protein</text>
<text class="lab" x="300" y="907">large terminase</text>
<text class="lab" x="330" y="961">endolysin</text>
<text class="lab" x="365" y="1039">thymidylate synthase</text>
<text class="lab" x="393" y="1072">adenylate kinase and related kinases</text>
<text class="lab" x="402" y="1113">dihydrofolate reductase</text>
<text class="lab" x="478" y="1156">poly-gamma-glutamate hydrolase</text>
</g>
</g>
</g>
</svg>
